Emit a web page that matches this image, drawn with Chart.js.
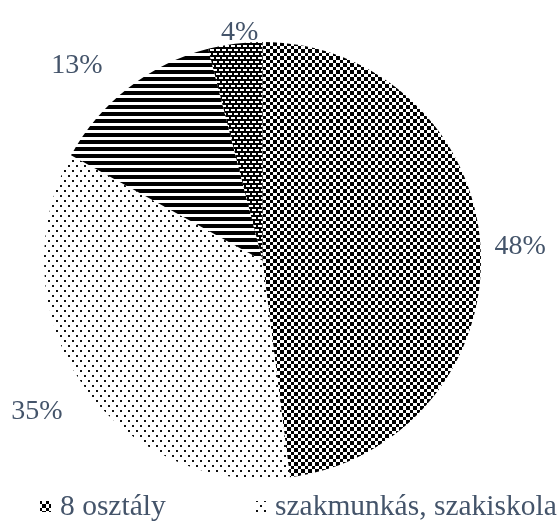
<!DOCTYPE html>
<html>
<head>
<meta charset="utf-8">
<script src="https://cdn.jsdelivr.net/npm/chart.js@4/dist/chart.umd.min.js"></script>
<style>
html,body{margin:0;padding:0;background:#fff;}
canvas{display:block;}
</style>
</head>
<body>
<canvas id="c" width="560" height="521"></canvas>
<script>
// ---- data ----
const categories = ["8 osztály", "szakmunkás, szakiskola", "érettségi", "felsőfokú"];
const shares = [48, 35, 13, 4];
const valueLabels = ["48%", "35%", "13%", "4%"];
const legendShown = 2;

// ---- patterns ----
function makePattern(w, h, bg, fg, rects) {
  const c = document.createElement('canvas');
  c.width = w; c.height = h;
  const x = c.getContext('2d');
  x.fillStyle = bg; x.fillRect(0, 0, w, h);
  x.fillStyle = fg;
  rects.forEach(r => x.fillRect(r[0], r[1], r[2], r[3]));
  return x.createPattern(c, 'repeat');
}
const ctx = document.getElementById('c').getContext('2d');
const patChecker = makePattern(7, 7, '#fff', '#000', [[0,0,4,4],[4,4,3,3]]);
const patDots = makePattern(8, 10, '#fff', '#111', [[0,0,2,2],[4,5,2,2]]);
const patStripes = makePattern(7, 7, '#fff', '#000', [[0,0,7,4]]);
const patConfetti = makePattern(6, 8, '#000', '#fff', [[0,1,4,2],[3,5,3,2],[0,5,1,2]]);
const fills = [patChecker, patDots, patStripes, patConfetti];

const textColor = '#44546A';
const fontFamily = '"Liberation Serif", "Times New Roman", serif';

const valueLabelPlugin = {
  id: 'valueLabels',
  afterDatasetsDraw(chart, args, opts) {
    const c = chart.ctx;
    const meta = chart.getDatasetMeta(0);
    c.save();
    c.font = opts.size + 'px ' + fontFamily;
    c.fillStyle = textColor;
    c.textAlign = 'center';
    c.textBaseline = 'middle';
    meta.data.forEach((arc, i) => {
      const p = arc.getProps(['x','y','startAngle','endAngle','outerRadius'], true);
      const mid = (p.startAngle + p.endAngle) / 2;
      const cx = Math.cos(mid), sy = Math.sin(mid);
      const txt = valueLabels[i];
      const w = c.measureText(txt).width;
      const h = opts.size * 0.7;
      const d = p.outerRadius + opts.gap;
      const nud = opts.nudge[i] || [0,0];
      const x = p.x + cx * d + cx * w / 2 + nud[0];
      const y = p.y + sy * d + sy * h / 2 + nud[1];
      c.fillText(txt, x, y + 1);
    });
    c.restore();
  }
};

const legendPlugin = {
  id: 'sideLegend',
  afterDraw(chart, args, opts) {
    const c = chart.ctx;
    const bg = chart.data.datasets[0].backgroundColor;
    c.save();
    c.font = opts.size + 'px ' + fontFamily;
    c.textBaseline = 'alphabetic';
    c.textAlign = 'left';
    for (let i = 0; i < legendShown; i++) {
      const x0 = opts.xs[i];
      c.fillStyle = bg[i];
      c.fillRect(x0, opts.boxY, opts.box, opts.box);
      c.fillStyle = textColor;
      c.fillText(chart.data.labels[i], x0 + opts.textGap, opts.baseline);
    }
    c.restore();
  }
};

new Chart(ctx, {
  type: 'pie',
  data: {
    labels: categories,
    datasets: [{
      data: shares,
      backgroundColor: fills,
      borderWidth: 0,
      hoverOffset: 0
    }]
  },
  options: {
    responsive: false,
    devicePixelRatio: 1,
    animation: false,
    layout: { padding: { top: 42, left: 43, right: 78, bottom: 42 } },
    plugins: {
      legend: { display: false },
      tooltip: { enabled: false },
      valueLabels: { size: 28, gap: 8, nudge: [[6,0],[-17,17],[-31,-9],[8,6]] },
      sideLegend: { size: 29.5, xs: [40, 255], box: 11, boxY: 501, textGap: 20, baseline: 515 }
    }
  },
  plugins: [valueLabelPlugin, legendPlugin]
});
</script>
</body>
</html>
